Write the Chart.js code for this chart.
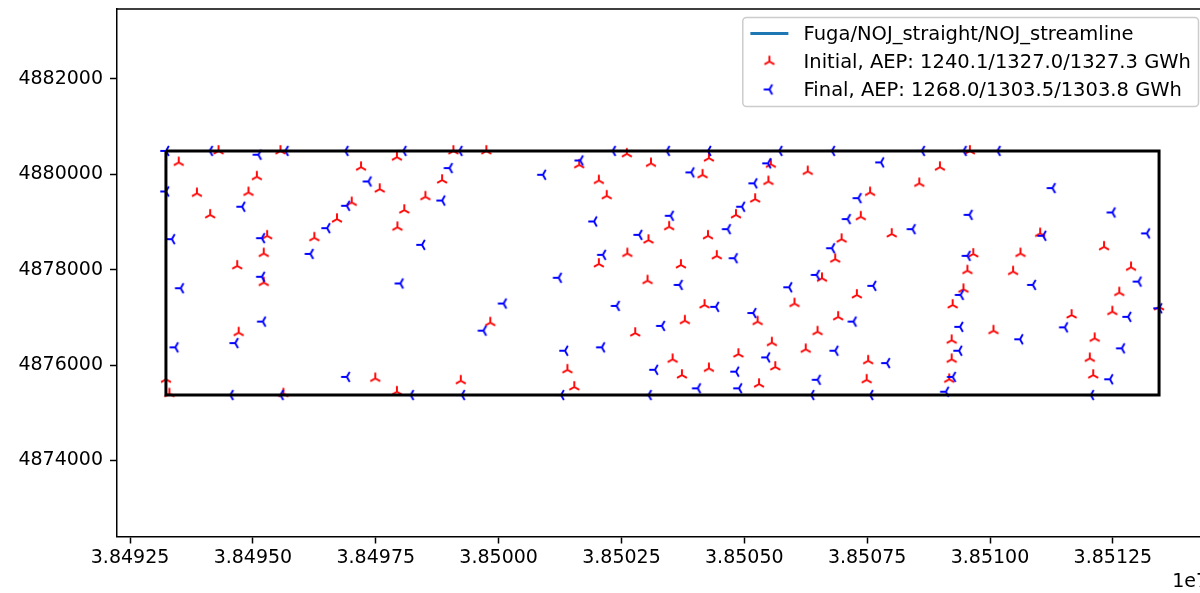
<!DOCTYPE html>
<html>
<head>
<meta charset="utf-8">
<title>Wind farm layout</title>
<script src="https://cdn.jsdelivr.net/npm/chart.js@4/dist/chart.umd.min.js"></script>
<style>
  html, body { margin: 0; padding: 0; background: #fff; overflow: hidden; width: 1200px; height: 593px; }
  #wrap { width: 1220px; height: 593px; }
  canvas { display: block; }
</style>
</head>
<body>
<div id="wrap"><canvas id="layout" width="1220" height="593"></canvas></div>
<script>
// Turbine positions (easting / northing)
const initialX = [
  38493490, 38494300, 38495560, 38495080, 38493860, 38494910, 38494130, 38495290, 38495220, 38494680,
  38495220, 38497200, 38497580, 38497010, 38496710, 38496250, 38497930, 38498510, 38498080, 38497940,
  38494710, 38493230, 38493300, 38495620, 38497490, 38497930, 38499080, 38499750, 38498850, 38501640,
  38502610, 38503100, 38502040, 38502200, 38503470, 38503050, 38502620, 38502040, 38503710, 38503030,
  38499830, 38503790, 38502780, 38503540, 38503730, 38501400, 38501540, 38499230, 38504280, 38505540,
  38504150, 38506290, 38505490, 38508560, 38505220, 38507560, 38504830, 38507370, 38504260, 38508000,
  38506980, 38506850, 38504440, 38506580, 38507290, 38506020, 38504190, 38505270, 38506910, 38506490,
  38505560, 38506250, 38504880, 38507520, 38505630, 38504280, 38507490, 38505300, 38509590, 38508980,
  38511020, 38509660, 38510620, 38512320, 38509540, 38510470, 38512870, 38509460, 38512630, 38509240,
  38513440, 38512490, 38511660, 38510070, 38509220, 38512130, 38509220, 38512030, 38509170, 38512100
];
const initialY = [
  4880250, 4880490, 4880490, 4879950, 4879600, 4879620, 4879150, 4878710, 4878340, 4878080,
  4877730, 4880150, 4879690, 4879410, 4879060, 4878670, 4880360, 4879530, 4879250, 4878890,
  4876680, 4875700, 4875400, 4875400, 4875720, 4875440, 4880490, 4880490, 4879880, 4880200,
  4880430, 4880230, 4879870, 4879550, 4878900, 4878620, 4878340, 4878120, 4878100, 4877770,
  4876890, 4876930, 4876670, 4876120, 4875790, 4875900, 4875540, 4875670, 4880340, 4880210,
  4879990, 4880060, 4879850, 4879810, 4879480, 4879620, 4879150, 4879110, 4878710, 4878750,
  4878640, 4878220, 4878290, 4877820, 4877470, 4877290, 4877260, 4876910, 4877010, 4876700,
  4876470, 4876330, 4876230, 4876090, 4875960, 4875930, 4875690, 4875600, 4880490, 4880150,
  4878760, 4878330, 4878340, 4878480, 4877980, 4877960, 4878050, 4877590, 4877520, 4877260,
  4877220, 4877120, 4877050, 4876720, 4876520, 4876560, 4876120, 4876140, 4875700, 4875790
];
const finalX = [
  38493230, 38494120, 38495110, 38495660, 38496880, 38498060, 38493230, 38494780, 38497350, 38496910,
  38496510, 38496170, 38495180, 38493350, 38498440, 38498000, 38495180, 38493530, 38495200, 38494640,
  38493420, 38496910, 38494540, 38495560, 38498210, 38499200, 38499000, 38498850, 38500900, 38501660,
  38502320, 38503420, 38503920, 38501940, 38503500, 38502860, 38502120, 38501220, 38503680, 38500100,
  38502400, 38499690, 38503320, 38501350, 38502100, 38503180, 38499250, 38501270, 38503050, 38504260,
  38505710, 38506780, 38508610, 38505480, 38507780, 38505200, 38504950, 38507320, 38507100, 38504660,
  38508420, 38506780, 38504800, 38506470, 38505910, 38507620, 38504420, 38505180, 38507220, 38506850,
  38505460, 38507900, 38504830, 38506490, 38504050, 38504890, 38506360, 38507560, 38509460, 38510150,
  38511270, 38512490, 38509580, 38513190, 38511080, 38509540, 38513020, 38510870, 38509400, 38513440,
  38512810, 38511520, 38509390, 38510610, 38512680, 38509370, 38512440, 38509240, 38509100, 38512050
];
const finalY = [
  4880490, 4880490, 4880410, 4880490, 4880490, 4880490, 4879640, 4879320, 4879850, 4879340,
  4878870, 4878330, 4878660, 4878640, 4878520, 4877710, 4877850, 4877610, 4876910, 4876460,
  4876370, 4875750, 4875370, 4875370, 4875370, 4880490, 4880130, 4879450, 4879990, 4880290,
  4880490, 4880490, 4880040, 4879010, 4879130, 4878730, 4878310, 4877830, 4877680, 4877290,
  4877240, 4876720, 4876820, 4876300, 4876370, 4875900, 4875370, 4875370, 4875370, 4880490,
  4880490, 4880490, 4880490, 4880230, 4880250, 4879810, 4879320, 4879500, 4879060, 4878850,
  4878850, 4878450, 4878240, 4877890, 4877630, 4877660, 4877220, 4877090, 4876910, 4876300,
  4876160, 4876040, 4875860, 4875690, 4875510, 4875510, 4875370, 4875370, 4880490, 4880490,
  4879710, 4879200, 4879150, 4878760, 4878710, 4878290, 4877750, 4877680, 4877470, 4877190,
  4877010, 4876790, 4876800, 4876540, 4876350, 4876300, 4875700, 4875750, 4875440, 4875370
];

// Site boundary (closed polygon)
const boundaryX = [38493230, 38513440, 38513440, 38493230, 38493230];
const boundaryY = [4880490, 4880490, 4875370, 4875370, 4880490];

// Axis ticks and limits
const xTicks = [38492500, 38495000, 38497500, 38500000, 38502500, 38505000, 38507500, 38510000, 38512500];
const yTicks = [4874000, 4876000, 4878000, 4880000, 4882000];
const xLimits = [38492234, 38514436];
const yLimits = [4872403, 4883467];
const xExponent = 7;

// Legend labels
const lineLabel = 'Fuga/NOJ_straight/NOJ_streamline';
const initialLabel = 'Initial, AEP: 1240.1/1327.0/1327.3 GWh';
const finalLabel = 'Final, AEP: 1268.0/1303.5/1303.8 GWh';

const FONT = '"DejaVu Sans", sans-serif';
const FS = 19;
const LEGEND_FS = 19.5;
Chart.defaults.font.family = FONT;
Chart.defaults.font.size = FS;
Chart.defaults.color = '#000';

// Three-armed "tri" marker drawn on a small canvas
function triMarker(kind, color) {
  const c = document.createElement('canvas');
  c.width = 16; c.height = 16;
  const g = c.getContext('2d');
  const a = 5.7, cx = 8, cy = 8;
  const dirs = kind === 'up'
    ? [[0, -1], [-0.866, 0.5], [0.866, 0.5]]
    : [[-1, 0], [0.5, -0.866], [0.5, 0.866]];
  g.strokeStyle = color;
  g.lineWidth = 1.9;
  g.lineCap = 'butt';
  g.beginPath();
  dirs.forEach(([dx, dy]) => { g.moveTo(cx, cy); g.lineTo(cx + dx * a, cy + dy * a); });
  g.stroke();
  return c;
}
const triUpRed = triMarker('up', '#ff0000');
const triLeftBlue = triMarker('left', '#0000ff');

const toPoints = (xs, ys) => xs.map((x, i) => ({ x: x, y: ys[i] }));

// Spines on top/right, legend box and axis offset text
const decorations = {
  id: 'decorations',
  afterDraw(chart) {
    const ctx = chart.ctx;
    const area = chart.chartArea;
    ctx.save();
    ctx.strokeStyle = '#000';
    ctx.lineWidth = 1.5;
    ctx.beginPath();
    ctx.moveTo(area.left, area.top);
    ctx.lineTo(area.right, area.top);
    ctx.lineTo(area.right, area.bottom);
    ctx.stroke();

    // legend
    ctx.font = LEGEND_FS + 'px ' + FONT;
    const entries = chart.data.datasets.filter(d => d.label);
    const textW = Math.max(...entries.map(d => ctx.measureText(d.label).width));
    const pad = 0.4 * FS, handleLen = 2 * FS, gap = 0.8 * FS, rowPitch = 28;
    const right = area.right - 0.5 * FS;
    const top = area.top + 8.5;
    const w = pad + handleLen + gap + textW + pad;
    const h = 89;
    const left = right - w;
    const r = 3.8;
    ctx.beginPath();
    ctx.moveTo(left + r, top);
    ctx.lineTo(right - r, top);
    ctx.arcTo(right, top, right, top + r, r);
    ctx.lineTo(right, top + h - r);
    ctx.arcTo(right, top + h, right - r, top + h, r);
    ctx.lineTo(left + r, top + h);
    ctx.arcTo(left, top + h, left, top + h - r, r);
    ctx.lineTo(left, top + r);
    ctx.arcTo(left, top, left + r, top, r);
    ctx.closePath();
    ctx.fillStyle = 'rgba(255,255,255,0.8)';
    ctx.fill();
    ctx.strokeStyle = '#cccccc';
    ctx.lineWidth = 1.5;
    ctx.stroke();

    const hx = left + pad;
    entries.forEach((d, i) => {
      const y = top + 16 + i * rowPitch;
      if (d.showLine) {
        ctx.strokeStyle = d.borderColor;
        ctx.lineWidth = 2.85;
        ctx.beginPath();
        ctx.moveTo(hx, y);
        ctx.lineTo(hx + handleLen, y);
        ctx.stroke();
      } else {
        const img = d.pointStyle;
        ctx.drawImage(img, hx + handleLen / 2 - img.width / 2, y - img.height / 2);
      }
      ctx.fillStyle = '#000';
      ctx.textAlign = 'left';
      ctx.textBaseline = 'middle';
      ctx.fillText(d.label, hx + handleLen + gap, y + 1);
    });

    // offset text of the x axis
    ctx.font = FS + 'px ' + FONT;
    ctx.textAlign = 'right';
    ctx.textBaseline = 'middle';
    ctx.fillText('1e' + xExponent, area.right, 582);
    ctx.restore();
  }
};

const axisGrid = { display: true, drawOnChartArea: false, drawTicks: true, tickLength: 7, tickWidth: 1.5, tickColor: '#000' };

new Chart(document.getElementById('layout'), {
  type: 'scatter',
  data: {
    datasets: [
      { label: lineLabel, data: [], showLine: true, borderColor: '#1f77b4', borderWidth: 2.85, pointRadius: 0, order: 3 },
      { label: initialLabel, data: toPoints(initialX, initialY), pointStyle: triUpRed, pointRadius: 6, order: 2 },
      { label: finalLabel, data: toPoints(finalX, finalY), pointStyle: triLeftBlue, pointRadius: 6, order: 1 },
      { label: '', data: toPoints(boundaryX, boundaryY), showLine: true, borderColor: '#000', borderWidth: 3,
        pointRadius: 0, borderJoinStyle: 'miter', order: 0 }
    ]
  },
  options: {
    responsive: false,
    devicePixelRatio: 1,
    animation: false,
    events: [],
    layout: { padding: { top: 9, right: 12, left: 0, bottom: 0 } },
    plugins: { legend: { display: false }, tooltip: { enabled: false } },
    scales: {
      x: {
        type: 'linear',
        min: xLimits[0],
        max: xLimits[1],
        grid: axisGrid,
        border: { display: true, color: '#000', width: 1.5 },
        afterBuildTicks: s => { s.ticks = xTicks.map(v => ({ value: v })); },
        afterFit: s => { s.height = 56.5; s.paddingLeft = 0; s.paddingRight = 0; },
        ticks: {
          autoSkip: false, maxRotation: 0, padding: 3, color: '#000',
          font: { size: FS, family: FONT },
          callback: v => (v / Math.pow(10, xExponent)).toFixed(5)
        }
      },
      y: {
        type: 'linear',
        min: yLimits[0],
        max: yLimits[1],
        grid: axisGrid,
        border: { display: true, color: '#000', width: 1.5 },
        afterBuildTicks: s => { s.ticks = yTicks.map(v => ({ value: v })); },
        afterFit: s => { s.width = 117; s.paddingTop = 0; s.paddingBottom = 0; },
        ticks: {
          autoSkip: false, padding: 7, color: '#000',
          font: { size: FS, family: FONT },
          callback: v => String(v)
        }
      }
    }
  },
  plugins: [decorations]
});
</script>
</body>
</html>
